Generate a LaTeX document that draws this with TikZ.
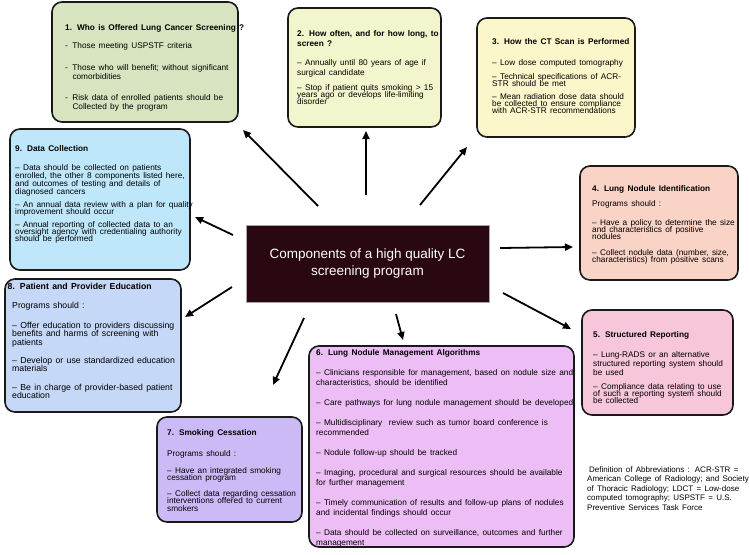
\documentclass[tikz,border=0pt]{standalone}
\usepackage{fontspec}
\setmainfont{Liberation Sans}
\usetikzlibrary{arrows.meta}
\definecolor{cA}{RGB}{216,228,192}
\definecolor{cB}{RGB}{243,246,204}
\definecolor{cD}{RGB}{252,246,203}
\definecolor{cE}{RGB}{249,211,198}
\definecolor{cF}{RGB}{247,198,218}
\definecolor{cG}{RGB}{237,190,245}
\definecolor{cH}{RGB}{204,186,247}
\definecolor{cI}{RGB}{198,216,247}
\definecolor{cJ}{RGB}{190,231,251}
\definecolor{cK}{RGB}{42,8,18}
\newcommand\fsz{8.25}
\newcommand\Ln[2]{{\fontsize{\fsz}{#1}\selectfont #2\par}}
\newcommand\Tt[2]{{\fontsize{\fsz}{#1}\selectfont\bfseries #2\par}}
\newcommand\Gp[1]{\vspace{#1pt}}
\begin{document}
\begin{tikzpicture}[x=1pt,y=-1pt,
  panel/.style={draw=black!90, line width=1.6pt, rounded corners=10pt, anchor=north west, inner sep=0pt, outer sep=0pt},
  txt/.style={anchor=north west, inner sep=0pt, text width=300pt, align=left,
    execute at begin node={\parindent=0pt\parskip=0pt\lineskiplimit=-20pt\lineskip=0pt}},
  arr/.style={line width=1.8pt, -{Triangle[length=8pt,width=7pt]}}]
\useasboundingbox (0,0) rectangle (749,554);
\fill[white] (0,0) rectangle (749,554);

% panels
\node[panel, fill=cA, minimum width=186pt, minimum height=120pt] (b1) at (52,2) {};
\node[panel, fill=cB, minimum width=153pt, minimum height=119pt] (b2) at (288,8) {};
\node[panel, fill=cD, minimum width=158pt, minimum height=119pt] (b3) at (477,18) {};
\node[panel, fill=cE, minimum width=158pt, minimum height=114pt] (b4) at (580,166) {};
\node[panel, fill=cF, minimum width=151pt, minimum height=105pt] (b5) at (582,310) {};
\node[panel, fill=cG, minimum width=265pt, minimum height=201pt] (b6) at (309,346) {};
\node[panel, fill=cH, minimum width=145pt, minimum height=105pt] (b7) at (157,417) {};
\node[panel, fill=cI, minimum width=176pt, minimum height=133pt] (b8) at (5,279) {};
\node[panel, fill=cJ, minimum width=180pt, minimum height=141pt] (b9) at (10,129) {};

% centre
\node[draw=gray!70, line width=0.6pt, fill=cK, minimum width=243pt, minimum height=77pt, anchor=north west, inner sep=0pt] (c) at (246,225) {};
\node[text=white, align=center, font=\fontsize{13.5}{16.7}\selectfont, inner sep=0pt] (ct) at (367.5,263.3) {Components of a high quality LC\\screening program};

% texts
\node[txt] (t1) at (65,23.9) {%
\Tt{9}{1. Who is Offered Lung Cancer Screening ?}\Gp{9}
\Ln{9}{-\hspace{4.5pt}Those meeting USPSTF criteria}\Gp{13}
\Ln{9}{-\hspace{4.5pt}Those who will benefit; without significant\newline\hspace*{7.3pt}comorbidities}\Gp{12}
\Ln{9}{-\hspace{4.5pt}Risk data of enrolled patients should be\newline\hspace*{7.3pt}Collected by the program}};

\node[txt] (t2) at (297,29.9) {%
\Tt{10}{2. How often, and for how long, to\newline screen ?}\Gp{9}
\Ln{10}{– Annually until 80 years of age if\newline surgical candidate}\Gp{8}
\Ln{7}{– Stop if patient quits smoking > 15\newline years ago or develops life-limiting\newline disorder}};

\node[txt] (t3) at (492,37.9) {%
\Tt{9}{3. How the CT Scan is Performed}\Gp{12}
\Ln{9}{– Low dose computed tomography}\Gp{6.7}
\Ln{7.3}{– Technical specifications of ACR-\newline STR should be met}\Gp{5.7}
\Ln{7.3}{– Mean radiation dose data should\newline be collected to ensure compliance\newline with ACR-STR recommendations}};

\node[txt] (t4) at (592,184.9) {%
\Tt{9}{4. Lung Nodule Identification}\Gp{6}
\Ln{9}{Programs should :}\Gp{11.7}
\Ln{7.3}{– Have a policy to determine the size\newline and characteristics of positive\newline nodules}\Gp{8.1}
\Ln{7.3}{– Collect nodule data (number, size,\newline characteristics) from positive scans}};

\node[txt] (t5) at (593,330.9) {%
\Tt{9}{5. Structured Reporting}\Gp{11}
\Ln{9}{– Lung-RADS or an alternative\newline structured reporting system should\newline be used}\Gp{6.7}
\Ln{7.3}{– Compliance data relating to use\newline of such a reporting system should\newline be collected}};

\node[txt] (t6) at (316,348.9) {%
\Tt{10}{6. Lung Nodule Management Algorithms}\Gp{10}
\Ln{10}{– Clinicians responsible for management, based on nodule size and\newline characteristics, should be identified}\Gp{10}
\Ln{10}{– Care pathways for lung nodule management should be developed}\Gp{10}
\Ln{10}{– Multidisciplinary\ \ review such as tumor board conference is\newline recommended}\Gp{10}
\Ln{10}{– Nodule follow-up should be tracked}\Gp{10}
\Ln{10}{– Imaging, procedural and surgical resources should be available\newline for further management}\Gp{10}
\Ln{10}{– Timely communication of results and follow-up plans of nodules\newline and incidental findings should occur}\Gp{10}
\Ln{10}{– Data should be collected on surveillance, outcomes and further\newline management}};

\node[txt] (t7) at (167,428.9) {%
\Tt{9}{7. Smoking Cessation}\Gp{12}
\Ln{9}{Programs should :}\Gp{9.5}
\Ln{7.5}{– Have an integrated smoking\newline cessation program}\Gp{8}
\Ln{7.5}{– Collect data regarding cessation\newline interventions offered to current\newline smokers}};

\node[txt] (t8) at (12,282.7) {\renewcommand\fsz{8.7}%
\Tt{9}{\hspace*{-4.5pt}8. Patient and Provider Education}\Gp{10.3}
\Ln{8.7}{Programs should :}\Gp{11.3}
\Ln{8.7}{– Offer education to providers discussing\newline benefits and harms of screening with\newline patients}\Gp{8.9}
\Ln{8.7}{– Develop or use standardized education\newline materials}\Gp{9.6}
\Ln{8.7}{– Be in charge of provider-based patient\newline education}};

\node[txt] (t9) at (15,144.9) {%
\Tt{9}{9. Data Collection}\Gp{10.7}
\Ln{8.3}{– Data should be collected on patients\newline enrolled, the other 8 components listed here,\newline and outcomes of testing and details of\newline diagnosed cancers}\Gp{6}
\Ln{7}{– An annual data review with a plan for quality\newline improvement should occur}\Gp{6}
\Ln{7}{– Annual reporting of collected data to an\newline oversight agency with credentialing authority\newline should be performed}};

\node[txt] (def) at (587,466) {%
{\fontsize{8}{9.5}\selectfont\hspace*{2pt}Definition of Abbreviations : ACR-STR =\newline American College of Radiology; and Society\newline of Thoracic Radiology; LDCT = Low-dose\newline computed tomography; USPSTF = U.S.\newline Preventive Services Task Force\par}};

% arrows
\coordinate (a1s) at (318,206); \coordinate (a1e) at (243,130);
\coordinate (a2s) at (366,195); \coordinate (a2e) at (366,131);
\coordinate (a3s) at (420,205); \coordinate (a3e) at (467,147);
\coordinate (a4s) at (500,248); \coordinate (a4e) at (573,247);
\coordinate (a5s) at (503,293); \coordinate (a5e) at (571,329);
\coordinate (a6s) at (396,314); \coordinate (a6e) at (403,340);
\coordinate (a7s) at (304,318); \coordinate (a7e) at (273,385);
\coordinate (a8s) at (232,287); \coordinate (a8e) at (185,317);
\coordinate (a9s) at (233,235); \coordinate (a9e) at (195,217);
\foreach \i in {1,...,9} {\draw[arr] (a\i s) -- (a\i e);}
\end{tikzpicture}
\end{document}
